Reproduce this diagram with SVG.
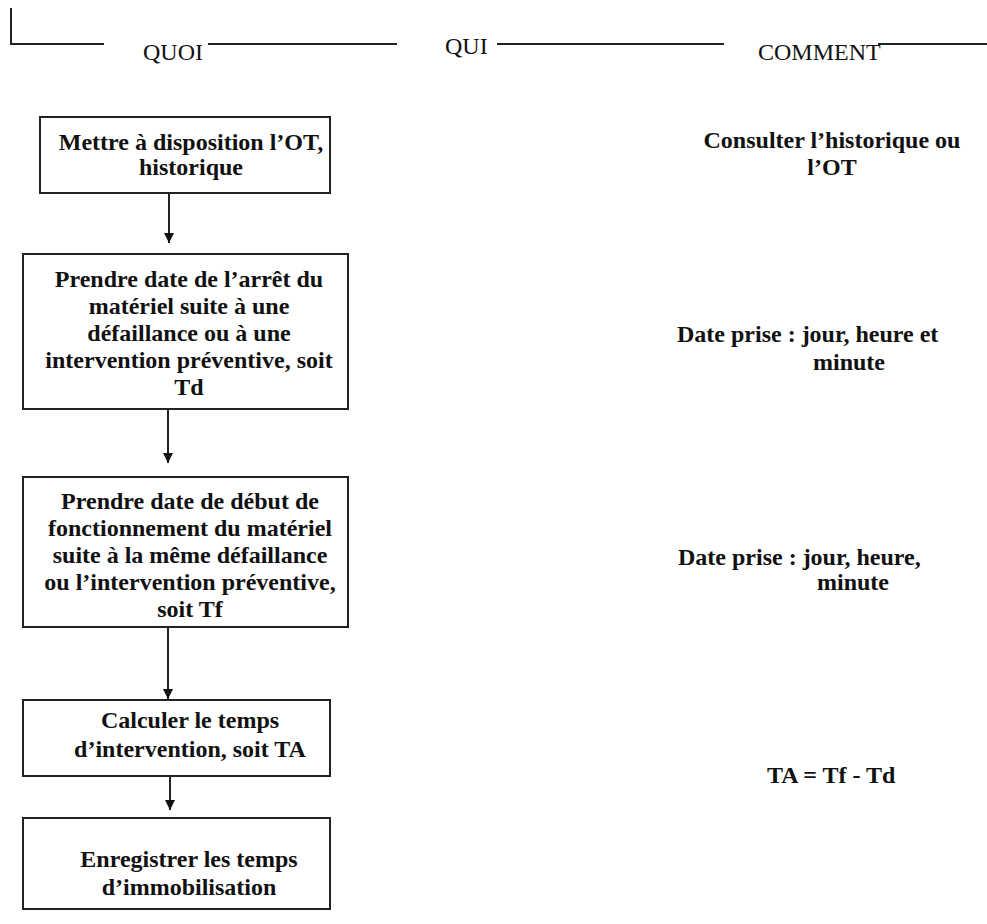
<svg xmlns="http://www.w3.org/2000/svg" width="987" height="924" viewBox="0 0 987 924">
<defs>
<style>
.hdr{font-family:"Liberation Serif","Tinos","DejaVu Serif","Noto Serif",serif;font-size:24px;fill:#111;}
.t{font-family:"Liberation Serif","Tinos","DejaVu Serif","Noto Serif",serif;font-size:24px;font-weight:bold;fill:#111;}
.c{text-anchor:middle;}
.box{fill:#fff;stroke:#222;stroke-width:2;}
.ln{stroke:#222;stroke-width:2;fill:none;}
</style>
<marker id="ah" viewBox="0 0 10 10" refX="10" refY="5" markerWidth="10" markerHeight="10" markerUnits="userSpaceOnUse" orient="auto">
<path d="M0,0 L10,5 L0,10 Z" fill="#111"/>
</marker>
</defs>
<rect width="987" height="924" fill="#fff"/>
<g id="header">
<path class="ln" d="M11,8 V44 H104"/>
<text class="hdr" x="143" y="60" font-family="Liberation Serif, serif">QUOI</text>
<line class="ln" x1="208" y1="44" x2="397" y2="44"/>
<text class="hdr" x="445" y="54" font-family="Liberation Serif, serif">QUI</text>
<line class="ln" x1="497" y1="44" x2="724" y2="44"/>
<text class="hdr" x="758" y="60" font-family="Liberation Serif, serif">COMMENT</text>
<line class="ln" x1="878" y1="44" x2="987" y2="44"/>
</g>
<g id="connectors">
<line class="ln" x1="169" y1="193" x2="169" y2="243" marker-end="url(#ah)"/>
<line class="ln" x1="168" y1="409" x2="168" y2="463" marker-end="url(#ah)"/>
<line class="ln" x1="168" y1="627" x2="168" y2="699" marker-end="url(#ah)"/>
<line class="ln" x1="170" y1="776" x2="170" y2="810" marker-end="url(#ah)"/>
</g>
<g id="box1">
<rect class="box" x="40" y="117" width="290" height="76"/>
<text class="t c" x="191" y="150">Mettre à disposition l’OT,</text>
<text class="t c" x="191" y="175">historique</text>
</g>
<g id="box2">
<rect class="box" x="23" y="254" width="325" height="155"/>
<text class="t c" x="189" y="287">Prendre date de l’arrêt du</text>
<text class="t c" x="189" y="314">matériel suite à une</text>
<text class="t c" x="189" y="341">défaillance ou à une</text>
<text class="t c" x="189" y="368">intervention préventive, soit</text>
<text class="t c" x="189" y="395">Td</text>
</g>
<g id="box3">
<rect class="box" x="23" y="477" width="325" height="150"/>
<text class="t c" x="190" y="509">Prendre date de début de</text>
<text class="t c" x="190" y="536">fonctionnement du matériel</text>
<text class="t c" x="190" y="563">suite à la même défaillance</text>
<text class="t c" x="190" y="590">ou l’intervention préventive,</text>
<text class="t c" x="190" y="617">soit Tf</text>
</g>
<g id="box4">
<rect class="box" x="23" y="700" width="307" height="76"/>
<text class="t c" x="190" y="728">Calculer le temps</text>
<text class="t c" x="190" y="757">d’intervention, soit TA</text>
</g>
<g id="box5">
<rect class="box" x="23" y="818" width="307" height="91"/>
<text class="t c" x="189" y="867">Enregistrer les temps</text>
<text class="t c" x="189" y="895">d’immobilisation</text>
</g>
<g id="comment1">
<text class="t c" x="832" y="148">Consulter l’historique ou</text>
<text class="t c" x="832" y="175">l’OT</text>
</g>
<g id="comment2">
<text class="t" x="677" y="342">Date prise : jour, heure et</text>
<text class="t" x="813" y="370">minute</text>
</g>
<g id="comment3">
<text class="t" x="678" y="565">Date prise : jour, heure,</text>
<text class="t" x="817" y="590">minute</text>
</g>
<g id="comment4">
<text class="t" x="767" y="783">TA = Tf - Td</text>
</g>
</svg>
